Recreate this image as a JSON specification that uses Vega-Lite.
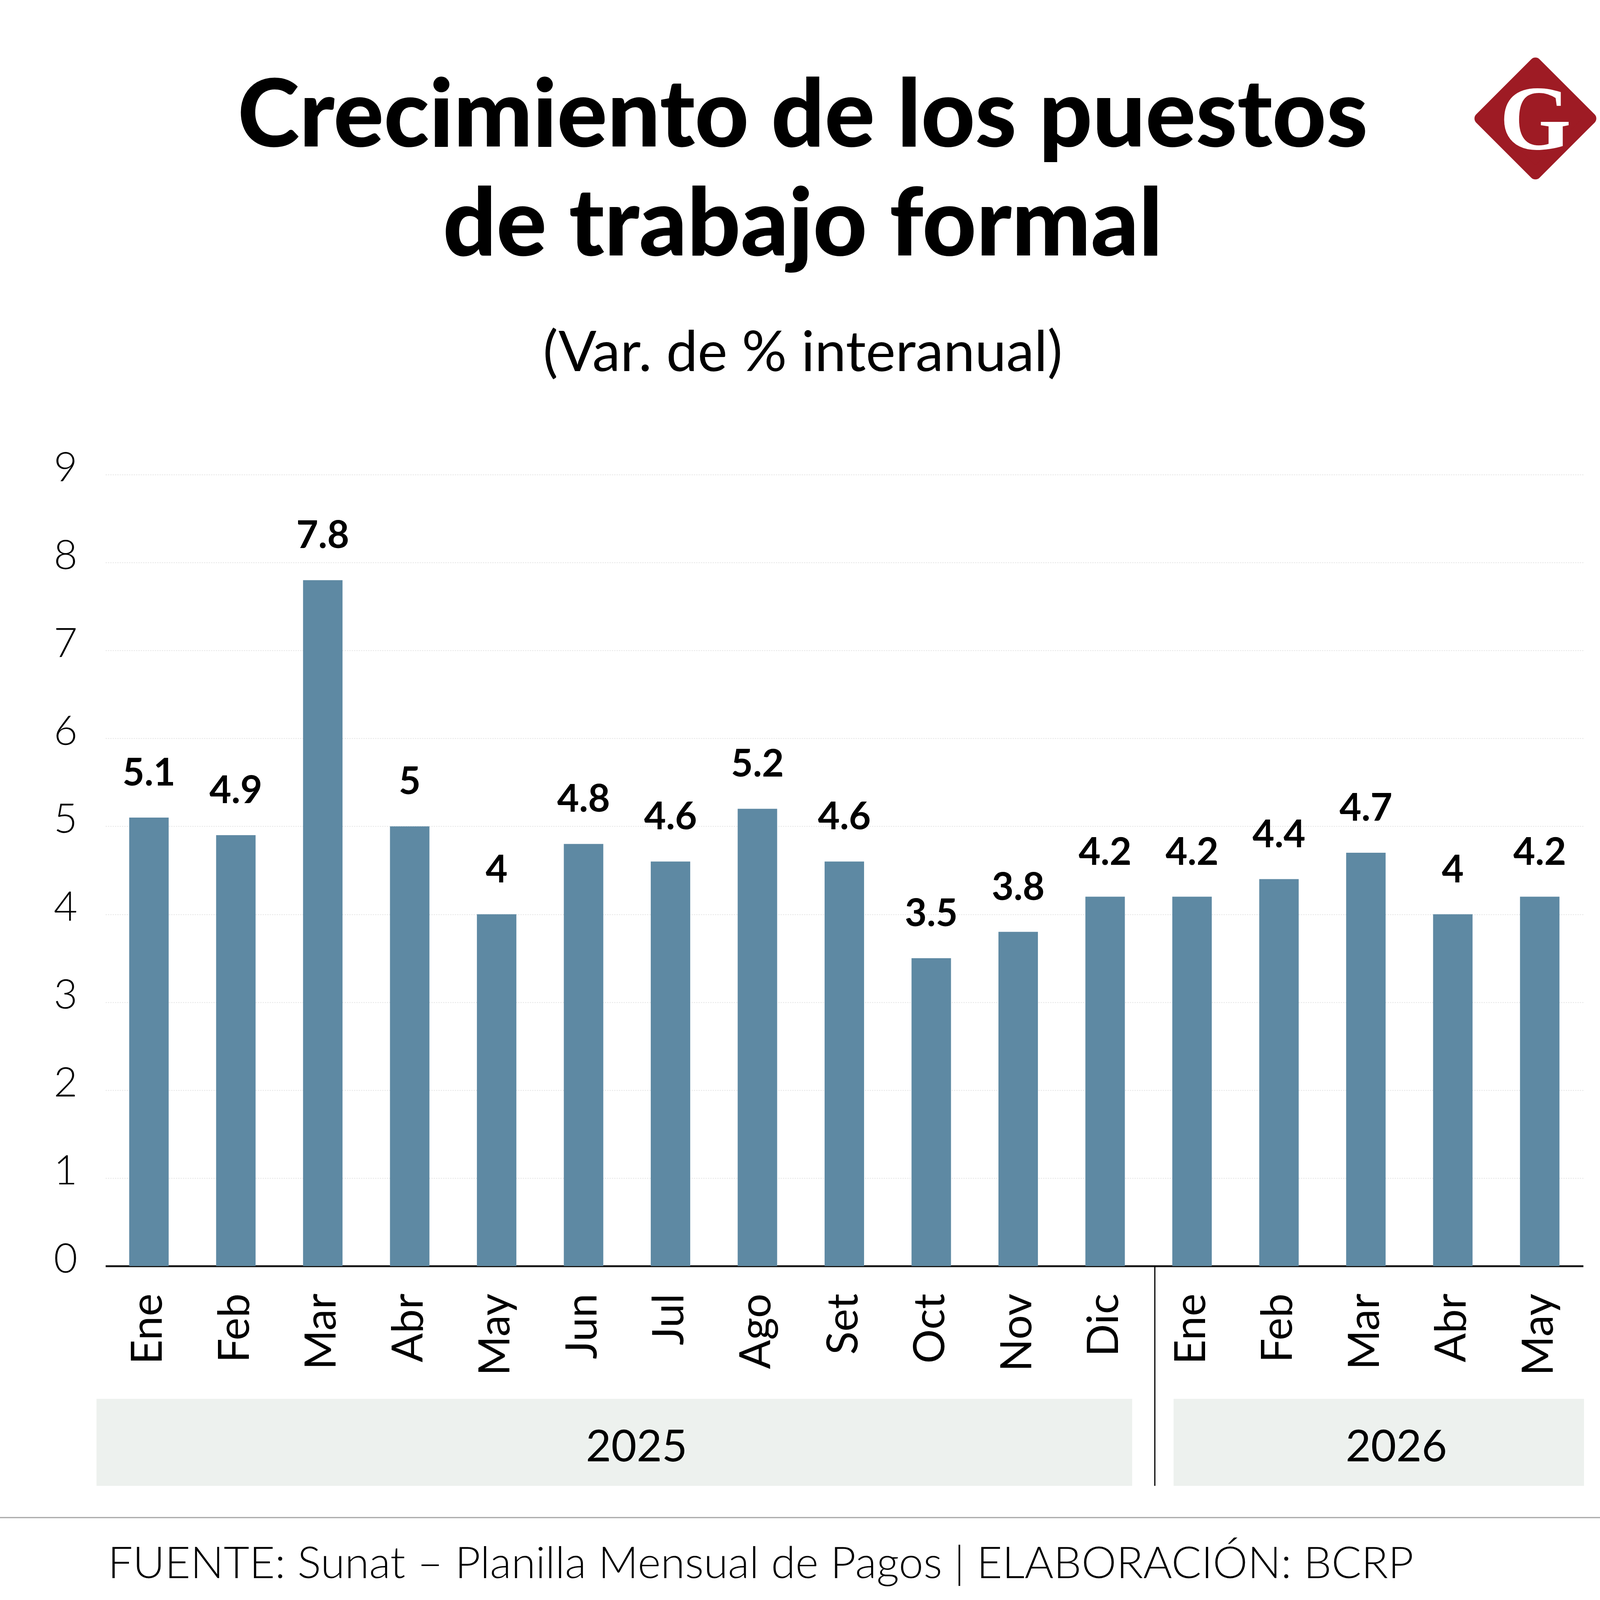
{
  "$schema": "https://vega.github.io/schema/vega-lite/v6.json",
  "autosize": "none",
  "width": 3783,
  "height": 2026,
  "padding": {"left": 270, "top": 1215, "right": 97, "bottom": 1253},
  "background": "white",
  "title": {
    "text": ["Crecimiento de los puestos", "de trabajo formal"],
    "subtitle": "(Var. de % interanual)",
    "frame": "bounds",
    "anchor": "middle",
    "dx": -20,
    "offset": -834,
    "font": "Lato",
    "fontWeight": 900,
    "fontSize": 240,
    "lineHeight": 279,
    "color": "#000000",
    "subtitleFont": "Lato",
    "subtitleFontWeight": 400,
    "subtitleFontSize": 144,
    "subtitleColor": "#000000",
    "subtitlePadding": 132
  },
  "config": {
    "view": {"stroke": null},
    "font": "Lato"
  },
  "data": {
    "values": [
      {"mes": "Ene-2025", "valor": 5.1},
      {"mes": "Feb-2025", "valor": 4.9},
      {"mes": "Mar-2025", "valor": 7.8},
      {"mes": "Abr-2025", "valor": 5},
      {"mes": "May-2025", "valor": 4},
      {"mes": "Jun-2025", "valor": 4.8},
      {"mes": "Jul-2025", "valor": 4.6},
      {"mes": "Ago-2025", "valor": 5.2},
      {"mes": "Set-2025", "valor": 4.6},
      {"mes": "Oct-2025", "valor": 3.5},
      {"mes": "Nov-2025", "valor": 3.8},
      {"mes": "Dic-2025", "valor": 4.2},
      {"mes": "Ene-2026", "valor": 4.2},
      {"mes": "Feb-2026", "valor": 4.4},
      {"mes": "Mar-2026", "valor": 4.7},
      {"mes": "Abr-2026", "valor": 4},
      {"mes": "May-2026", "valor": 4.2}
    ]
  },
  "layer": [
    {
      "mark": {"type": "bar", "color": "#5e89a3", "width": {"band": 0.454}},
      "encoding": {
        "x": {
          "field": "mes",
          "type": "nominal",
          "scale": {
            "domain": ["Ene-2025", "Feb-2025", "Mar-2025", "Abr-2025", "May-2025", "Jun-2025", "Jul-2025", "Ago-2025", "Set-2025", "Oct-2025", "Nov-2025", "Dic-2025", "Ene-2026", "Feb-2026", "Mar-2026", "Abr-2026", "May-2026"],
            "paddingInner": 0,
            "paddingOuter": 0
          },
          "axis": {
            "title": null,
            "orient": "bottom",
            "labelAngle": -90,
            "labelExpr": "split(datum.value, '-')[0]",
            "labelFont": "Lato",
            "labelFontSize": 110,
            "labelColor": "#000000",
            "labelPadding": 70,
            "labelLimit": 1000,
            "ticks": false,
            "grid": false,
            "domainColor": "#1a1a1a",
            "domainWidth": 5
          }
        },
        "y": {
          "field": "valor",
          "type": "quantitative",
          "scale": {"domain": [0, 9], "nice": false},
          "axis": {
            "title": null,
            "values": [0, 1, 2, 3, 4, 5, 6, 7, 8, 9],
            "format": "d",
            "ticks": false,
            "domain": false,
            "labelFont": "Lato",
            "labelFontWeight": 300,
            "labelFontSize": 105,
            "labelColor": "#000000",
            "labelPadding": 72,
            "labelOffset": -16,
            "gridColor": "#e3e3e3",
            "gridWidth": 2,
            "gridDash": [3, 3]
          }
        }
      }
    },
    {
      "mark": {"type": "text", "font": "Lato", "fontWeight": 700, "fontSize": 97, "baseline": "alphabetic", "dy": -82, "color": "#000000"},
      "encoding": {
        "x": {"field": "mes", "type": "nominal"},
        "y": {"field": "valor", "type": "quantitative"},
        "text": {"field": "valor", "type": "nominal"}
      }
    },
    {
      "data": {"values": [{}]},
      "mark": {"type": "rect", "color": "#edf1ee", "xOffset": -23, "x2Offset": -42},
      "encoding": {
        "x": {"datum": "Ene-2025", "bandPosition": 0},
        "x2": {"datum": "Dic-2025", "bandPosition": 1},
        "y": {"datum": -1.51},
        "y2": {"datum": -2.5}
      }
    },
    {
      "data": {"values": [{}]},
      "mark": {"type": "rect", "color": "#edf1ee", "xOffset": 64, "x2Offset": 2},
      "encoding": {
        "x": {"datum": "Ene-2026", "bandPosition": 0},
        "x2": {"datum": "May-2026", "bandPosition": 1},
        "y": {"datum": -1.51},
        "y2": {"datum": -2.5}
      }
    },
    {
      "data": {"values": [{}]},
      "mark": {"type": "text", "font": "Lato", "fontSize": 112, "align": "center", "baseline": "alphabetic", "color": "#000000"},
      "encoding": {
        "x": {"datum": "Jul-2025", "bandPosition": 0.11},
        "y": {"datum": -2.221},
        "text": {"value": "2025"}
      }
    },
    {
      "data": {"values": [{}]},
      "mark": {"type": "text", "font": "Lato", "fontSize": 112, "align": "center", "baseline": "alphabetic", "color": "#000000"},
      "encoding": {
        "x": {"datum": "Mar-2026", "bandPosition": 0.85},
        "y": {"datum": -2.221},
        "text": {"value": "2026"}
      }
    },
    {
      "data": {"values": [{}]},
      "mark": {"type": "rule", "color": "#000000", "strokeWidth": 3, "xOffset": 16},
      "encoding": {
        "x": {"datum": "Ene-2026", "bandPosition": 0},
        "y": {"datum": 0},
        "y2": {"datum": -2.5}
      }
    },
    {
      "data": {"values": [{}]},
      "mark": {"type": "rule", "color": "#a6a6a6", "strokeWidth": 3, "xOffset": -270, "x2Offset": 97},
      "encoding": {
        "x": {"datum": "Ene-2025", "bandPosition": 0},
        "x2": {"datum": "May-2026", "bandPosition": 1},
        "y": {"datum": -2.861}
      }
    },
    {
      "data": {"values": [{}]},
      "mark": {"type": "text", "font": "Lato", "fontWeight": 300, "fontSize": 113, "align": "left", "baseline": "alphabetic", "color": "#000000", "xOffset": 6},
      "encoding": {
        "x": {"datum": "Ene-2025", "bandPosition": 0},
        "y": {"datum": -3.549},
        "text": {"value": "FUENTE: Sunat – Planilla Mensual de Pagos | ELABORACIÓN: BCRP"}
      }
    },
    {
      "data": {"values": [{}]},
      "mark": {"type": "point", "shape": "diamond", "filled": true, "color": "#9e1b24", "stroke": "#9e1b24", "strokeWidth": 30, "strokeJoin": "round", "size": 79524, "opacity": 1},
      "encoding": {
        "x": {"datum": "May-2026", "bandPosition": 0.45},
        "y": {"datum": 13.05}
      }
    },
    {
      "data": {"values": [{}]},
      "mark": {"type": "text", "font": "Liberation Serif", "fontWeight": "bold", "fontSize": 235, "align": "center", "baseline": "alphabetic", "color": "#ffffff"},
      "encoding": {
        "x": {"datum": "May-2026", "bandPosition": 0.45},
        "y": {"datum": 12.7},
        "text": {"value": "G"}
      }
    }
  ]
}
